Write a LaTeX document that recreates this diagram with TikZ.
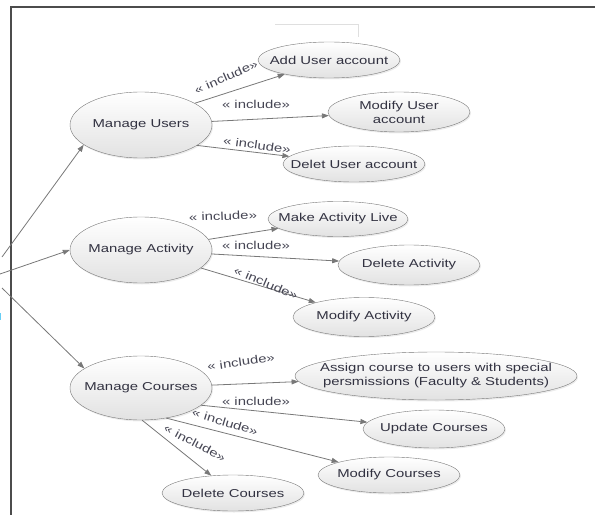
\documentclass[tikz,border=0pt]{standalone}
\usepackage{fontspec}
\newfontfamily\ucfont[FakeStretch=1.3]{Liberation Sans}
\usetikzlibrary{shapes.geometric,arrows.meta,shadows}
\definecolor{ucline}{RGB}{120,120,120}
\definecolor{uctext}{RGB}{50,50,65}
\definecolor{ucfill}{RGB}{226,226,226}
\begin{document}
\begin{tikzpicture}[x=1bp,y=-1bp,
    uc/.style={ellipse,draw=ucline,top color=white,bottom color=ucfill,inner xsep=-30bp,inner ysep=-4bp,text=uctext,align=center,font=\ucfont\fontsize{11.5}{14}\selectfont,drop shadow={opacity=0.15,shadow xshift=1bp,shadow yshift=-1.5bp}},
    inc/.style={text=uctext!90,inner sep=0pt,font=\ucfont\fontsize{11.5}{14}\selectfont},
    rel/.style={draw=ucline,line width=0.8bp,-{Triangle[length=7bp,width=5bp]}}]
    \useasboundingbox (0,0) rectangle (595,515);
    \draw[black!70,line width=1.3bp] (11,515) -- (11,7) -- (595,7);
    \draw[gray!25] (275,24) -- (358,24) -- (358,37);
    \draw[cyan!60,line width=2bp] (0,313) -- (0,320);
    \node[uc,minimum width=142bp,minimum height=66bp] (mu) at (141,125) {Manage Users};
    \node[uc,minimum width=142bp,minimum height=36bp] (adduser) at (329,60) {Add User account};
    \node[uc,minimum width=142bp,minimum height=40bp] (moduser) at (399,112) {Modify User\\account};
    \node[uc,minimum width=142bp,minimum height=36bp] (deluser) at (354,164) {Delet User account};
    \node[uc,minimum width=142bp,minimum height=66bp] (ma) at (141,250) {Manage Activity};
    \node[uc,minimum width=140bp,minimum height=35bp] (liveact) at (338,219) {Make Activity Live};
    \node[uc,minimum width=142bp,minimum height=40bp] (delact) at (409,265) {Delete Activity};
    \node[uc,minimum width=142bp,minimum height=39bp] (modact) at (364,317) {Modify Activity};
    \node[uc,minimum width=142bp,minimum height=64bp] (mc) at (141,388) {Manage Courses};
    \node[uc,minimum width=282bp,minimum height=48bp] (assign) at (436,376) {Assign course to users with special\\persmissions (Faculty \& Students)};
    \node[uc,minimum width=142bp,minimum height=38bp] (updc) at (434,429) {Update Courses};
    \node[uc,minimum width=142bp,minimum height=36bp] (modc) at (389,475) {Modify Courses};
    \node[uc,minimum width=142bp,minimum height=36bp] (delc) at (233,493) {Delete Courses};
    \coordinate (a1) at (2,257);
    \coordinate (a2) at (0,274);
    \coordinate (a3) at (2,288);
    \draw[rel] (a1) -- (mu.-161);
    \draw[rel] (a2) -- (ma.west);
    \draw[rel] (a3) -- (mc.161);
    \draw[rel] (mu.22) -- (adduser);
    \draw[rel] (mu) -- (moduser);
    \draw[rel] (mu.-20) -- (deluser);
    \draw[rel] (ma) -- (liveact);
    \draw[rel] (ma) -- (delact);
    \draw[rel] (ma) -- (modact);
    \draw[rel] (mc) -- (assign);
    \draw[rel] (mc.-16) -- (updc);
    \draw[rel] (mc.-50) -- (modc);
    \draw[rel] (mc.-88) -- (delc);
    \node[inc,rotate=24] (l1) at (226,77) {« include»};
    \node[inc] (l2) at (256,104) {« include»};
    \node[inc,rotate=-8] (l3) at (257,145) {« include»};
    \node[inc,rotate=2] (l4) at (223,216) {« include»};
    \node[inc] (l5) at (256,245) {« include»};
    \node[inc,rotate=-23] (l6) at (266,283) {« include»};
    \node[inc,rotate=8] (l7) at (241,362) {« include»};
    \node[inc] (l8) at (256,401) {« include»};
    \node[inc,rotate=-17] (l9) at (225,422) {« include»};
    \node[inc,rotate=-28] (l10) at (195,443) {« include»};
\end{tikzpicture}
\end{document}
